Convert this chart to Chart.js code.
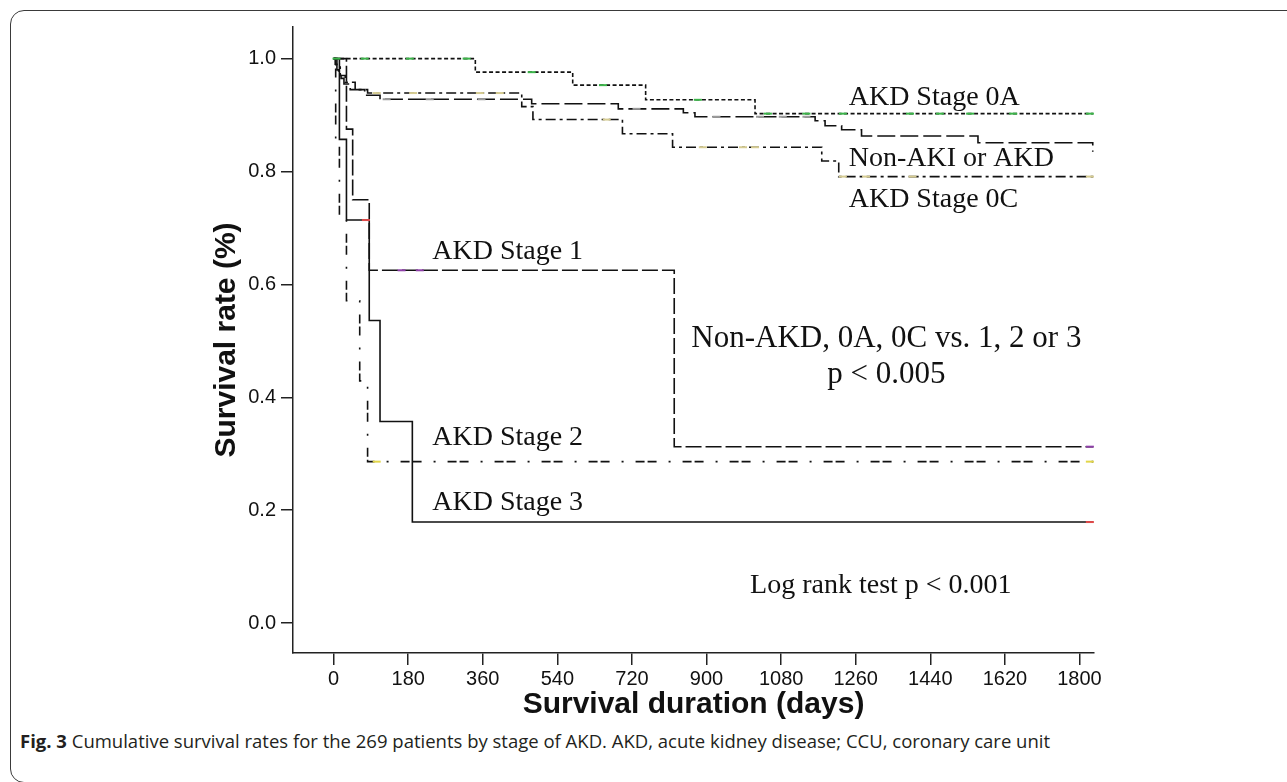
<!DOCTYPE html>
<html>
<head>
<meta charset="utf-8">
<script src="https://cdn.jsdelivr.net/npm/chart.js@4.4.0/dist/chart.umd.min.js"></script>
<style>
  html, body { margin: 0; padding: 0; background: #fff; }
  body { width: 1287px; height: 782px; position: relative; overflow: hidden; }
  #frame { position: absolute; left: 10px; top: 10px; width: 1300px; height: 773px; border: 1.5px solid #3a3a3a; border-radius: 14px; box-sizing: border-box; }
  #wrap { position: absolute; left: 0; top: 0; width: 1287px; height: 720px; }
  #caption { position: absolute; left: 20px; top: 728px; font-family: "Open Sans", sans-serif; font-size: 18.5px; color: #231f20; white-space: nowrap; }
</style>
</head>
<body>
<div id="frame"></div>
<div id="wrap"><canvas id="kmChart" width="1287" height="720"></canvas></div>
<div id="caption"><b>Fig. 3</b> Cumulative survival rates for the 269 patients by stage of AKD. AKD, acute kidney disease; CCU, coronary care unit</div>
<script>
// axis ticks
const dayTicks = [0, 180, 360, 540, 720, 900, 1080, 1260, 1440, 1620, 1800];
const rateTicks = [0.0, 0.2, 0.4, 0.6, 0.8, 1.0];

// Kaplan-Meier steps (day of drop, survival after drop)
const stage0aDays = [0, 342, 577, 753, 1017, 1833];
const stage0aRate = [1.0, 0.976, 0.953, 0.927, 0.9025, 0.9025];

const nonAkiDays = [0, 4, 8, 12, 18, 25, 40, 75, 112, 478, 687, 844, 872, 1162, 1186, 1226, 1274, 1555, 1832];
const nonAkiRate = [1.0, 0.99, 0.98, 0.97, 0.965, 0.955, 0.945, 0.935, 0.928, 0.920, 0.911, 0.904, 0.897, 0.890, 0.881, 0.874, 0.863, 0.851, 0.835];

const stage0cDays = [0, 8, 16, 28, 52, 82, 454, 481, 697, 818, 1178, 1219, 1833];
const stage0cRate = [1.0, 0.985, 0.97, 0.958, 0.945, 0.939, 0.915, 0.892, 0.867, 0.843, 0.8185, 0.791, 0.791];

const stage1Days = [0, 31, 46, 86, 822, 1833];
const stage1Rate = [1.0, 0.875, 0.75, 0.625, 0.3125, 0.3125];

const stage2Days = [0, 5, 14, 31, 63, 82, 1833];
const stage2Rate = [1.0, 0.857, 0.714, 0.571, 0.429, 0.286, 0.286];

const stage3Days = [0, 14, 31, 86, 112, 190, 1833];
const stage3Rate = [1.0, 0.857, 0.714, 0.536, 0.357, 0.179, 0.179];

// censored marks [day, rate]
const censor0a = [[7, 1], [75, 1], [184, 1], [321, 1], [478, 0.976], [650, 0.953], [879, 0.927], [1048, 0.9025], [1141, 0.9025], [1229, 0.9025], [1391, 0.9025], [1463, 0.9025], [1536, 0.9025], [1640, 0.9025], [1825, 0.9025]];
const censor0c = [[104, 0.939], [192, 0.939], [353, 0.939], [401, 0.939], [659, 0.892], [891, 0.843], [988, 0.843], [1017, 0.843], [1229, 0.791], [1285, 0.791], [1397, 0.791], [1825, 0.791]];
const censorNonAki = [[128, 0.928], [232, 0.928], [357, 0.928], [731, 0.911], [924, 0.897], [1029, 0.897], [1084, 0.897], [1141, 0.897]];
const censor1 = [[164, 0.625], [208, 0.625], [1825, 0.3125]];
const censor2 = [[104, 0.286], [1825, 0.286]];
const censor3 = [[78, 0.714], [1825, 0.179]];

// text notes: label, [day, rate] of anchor
const noteText = ['AKD Stage 0A', 'Non-AKI or AKD', 'AKD Stage 0C', 'AKD Stage 1', 'AKD Stage 2', 'AKD Stage 3',
  'Non-AKD, 0A, 0C vs. 1, 2 or 3', 'p < 0.005', 'Log rank test p < 0.001'];
const notePos = [[1243, 0.917], [1243, 0.809], [1243, 0.737], [238, 0.6456], [238, 0.315], [238, 0.1997],
  [1334, 0.489], [1334, 0.4247], [1005, 0.054]];

const xTitle = 'Survival duration (days)';
const yTitle = 'Survival rate (%)';

function pairs(days, rates) {
    return days.map((d, i) => ({ x: d, y: rates[i] }));
}

function stepLine(days, rates, dash) {
    return {
        data: pairs(days, rates),
        stepped: true,
        borderColor: '#111',
        borderWidth: 1.6,
        borderDash: dash,
        pointRadius: 0,
        fill: false,
        order: 1
    };
}

function censorMarks(list, color) {
    return {
        data: list.map(p => ({ x: p[0], y: p[1] })),
        showLine: false,
        pointStyle: 'line',
        pointRadius: 4,
        borderColor: color,
        backgroundColor: color,
        borderWidth: 2,
        order: 0
    };
}

const noteFont = [28, 28, 28, 28, 28, 28, 31, 31, 28];
const noteAlign = ['left', 'left', 'left', 'left', 'left', 'left', 'center', 'center', 'left'];

const textPlugin = {
    id: 'kmText',
    afterDraw(chart) {
        const { ctx, chartArea, scales: { x, y } } = chart;
        ctx.save();
        ctx.fillStyle = '#111';
        ctx.textBaseline = 'alphabetic';
        noteText.forEach((t, i) => {
            ctx.font = noteFont[i] + 'px "Liberation Serif"';
            ctx.textAlign = noteAlign[i];
            ctx.fillText(t, x.getPixelForValue(notePos[i][0]), y.getPixelForValue(notePos[i][1]));
        });
        // axis titles
        ctx.font = 'bold 30px "Liberation Sans"';
        ctx.textAlign = 'center';
        ctx.textBaseline = 'middle';
        ctx.fillText(xTitle, (chartArea.left + chartArea.right) / 2, chartArea.bottom + 52);
        ctx.translate(chartArea.left - 66, (chartArea.top + chartArea.bottom) / 2);
        ctx.rotate(-Math.PI / 2);
        ctx.fillText(yTitle, 0, 0);
        ctx.restore();
    }
};

const axisStyle = {
    grid: { display: true, drawOnChartArea: false, drawTicks: true, tickLength: 12, color: '#222', lineWidth: 1.5 },
    border: { display: true, color: '#222', width: 1.5 }
};

const ctx = document.getElementById('kmChart').getContext('2d');
new Chart(ctx, {
    type: 'line',
    data: {
        datasets: [
            stepLine(stage0aDays, stage0aRate, [4, 2.5]),
            stepLine(nonAkiDays, nonAkiRate, [18, 5]),
            stepLine(stage0cDays, stage0cRate, [10, 4, 3, 4]),
            stepLine(stage1Days, stage1Rate, [16, 4]),
            stepLine(stage2Days, stage2Rate, [9, 3, 9, 12, 2, 12]),
            stepLine(stage3Days, stage3Rate, []),
            censorMarks(censor0a, '#3cb54a'),
            censorMarks(censor0c, '#d6cc92'),
            censorMarks(censorNonAki, '#9a9a9a'),
            censorMarks(censor1, '#8e3fa8'),
            censorMarks(censor2, '#e2d64a'),
            censorMarks(censor3, '#e04a4a')
        ]
    },
    options: {
        responsive: false,
        animation: false,
        devicePixelRatio: 1,
        layout: { padding: { left: 0, top: 27, right: 193, bottom: 12 } },
        plugins: { legend: { display: false }, tooltip: { enabled: false } },
        scales: {
            x: {
                type: 'linear',
                min: -98,
                max: 1835,
                ...axisStyle,
                afterBuildTicks: scale => { scale.ticks = dayTicks.map(v => ({ value: v })); },
                afterFit: scale => { scale.height = 55; },
                ticks: {
                    font: { family: 'Liberation Sans', size: 20 },
                    color: '#111',
                    padding: 2,
                    maxRotation: 0,
                    autoSkip: false,
                    callback: v => String(v)
                }
            },
            y: {
                type: 'linear',
                min: -0.053,
                max: 1.056,
                ...axisStyle,
                afterBuildTicks: scale => { scale.ticks = rateTicks.map(v => ({ value: v })); },
                afterFit: scale => { scale.width = 293; },
                ticks: {
                    font: { family: 'Liberation Sans', size: 20 },
                    color: '#111',
                    padding: 5,
                    autoSkip: false,
                    callback: v => v.toFixed(1)
                }
            }
        }
    },
    plugins: [textPlugin]
});
</script>
</body>
</html>
